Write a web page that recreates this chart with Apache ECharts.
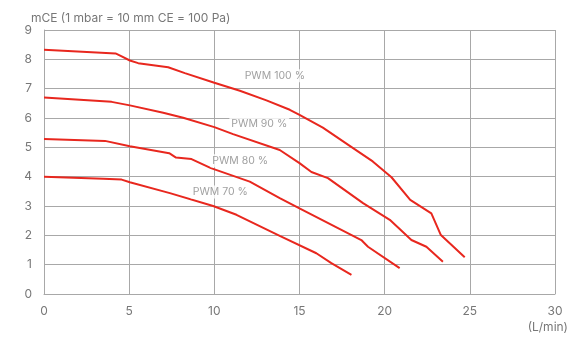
<!DOCTYPE html>
<html><head><meta charset="utf-8">
<script src="https://cdn.jsdelivr.net/npm/echarts@6/dist/echarts.min.js"></script>
<style>html,body{margin:0;padding:0;background:#fff}#c{width:576px;height:340px}</style>
</head><body><div id="c"></div>
<script>
const seriesNames = ['PWM 100 %', 'PWM 90 %', 'PWM 80 %', 'PWM 70 %'];
const pwm100 = [[0,8.33],[4.2,8.2],[4.56,8.1],[5.04,7.96],[5.53,7.87],[7.29,7.73],[8.27,7.53],[10,7.2],[11.5,6.93],[13.06,6.6],[14.43,6.28],[15,6.11],[16.37,5.67],[17.95,5.05],[19.3,4.52],[20.4,3.98],[21.5,3.21],[22.74,2.75],[23.3,2.01],[24.7,1.25]];
const pwm90 = [[0,6.7],[3.97,6.55],[5.04,6.43],[7,6.18],[8.17,6.01],[10,5.69],[11.1,5.45],[13.84,4.91],[15,4.46],[15.7,4.16],[16.67,3.95],[18.73,3.1],[20.3,2.53],[21.57,1.84],[22.45,1.61],[23.42,1.1]];
const pwm80 = [[0,5.28],[3.58,5.22],[5.04,5.04],[7.35,4.8],[7.75,4.65],[8.66,4.6],[9.8,4.29],[12.08,3.83],[13.84,3.27],[15,2.92],[18.63,1.84],[19.02,1.61],[20.88,0.88]];
const pwm70 = [[0,4.0],[3.48,3.93],[4.56,3.9],[5.04,3.81],[7.39,3.44],[9.93,3.0],[11.3,2.7],[13.84,1.98],[15.99,1.39],[16.87,1.05],[18.05,0.65]];
const labelAnchors = [[13.55,7.44],[12.64,5.8],[11.52,4.54],[10.35,3.48]];
const xTicks = [0,5,10,15,20,25,30];
const yTicks = [0,1,2,3,4,5,6,7,8,9];
const yTitle = 'mCE (1 mbar = 10 mm CE = 100 Pa)';
const xUnit = '(L/min)';

const font = 'Inter, "Noto Sans", sans-serif';
const red = '#e8271e';
const gridCol = '#a8a8a8';
const chart = echarts.init(document.getElementById('c'), null, {renderer:'canvas'});
const lines = [pwm100, pwm90, pwm80, pwm70].map((d,i)=>({
  type:'line', name:seriesNames[i], data:d, showSymbol:false, symbol:'none',
  lineStyle:{color:red,width:2}, z:3, animation:false
}));
chart.setOption({
  animation:false,
  title:{text:yTitle,left:26,top:7,textStyle:{fontSize:12,fontWeight:'normal',color:'#777',fontFamily:font}},
  grid:{left:44,right:21,top:30,bottom:46,containLabel:false},
  xAxis:{type:'value',min:xTicks[0],max:xTicks[xTicks.length-1],interval:5,
    axisLine:{show:true,lineStyle:{color:gridCol,width:1}},axisTick:{show:false},
    splitLine:{show:true,lineStyle:{color:gridCol,width:1}},
    axisLabel:{color:'#777',fontSize:12,margin:11,fontFamily:font}},
  yAxis:{type:'value',min:yTicks[0],max:yTicks[yTicks.length-1],interval:1,
    axisLine:{show:true,lineStyle:{color:gridCol,width:1}},axisTick:{show:false},
    splitLine:{show:true,lineStyle:{color:gridCol,width:1}},
    axisLabel:{color:'#777',fontSize:12,margin:12,fontFamily:font}},
  graphic:[{type:'text',right:8,top:321,style:{text:xUnit,fill:'#777',font:'12px '+font}}],
  series:[...lines,{
    type:'scatter',symbolSize:0,z:5,silent:true,
    data:labelAnchors.map((p,i)=>({value:p,name:seriesNames[i]})),
    label:{show:true,position:'inside',formatter:p=>p.name,color:'#888',fontSize:10.5,fontFamily:font,
      backgroundColor:'#fff',padding:[1,2]}
  }]
});
</script></body></html>
